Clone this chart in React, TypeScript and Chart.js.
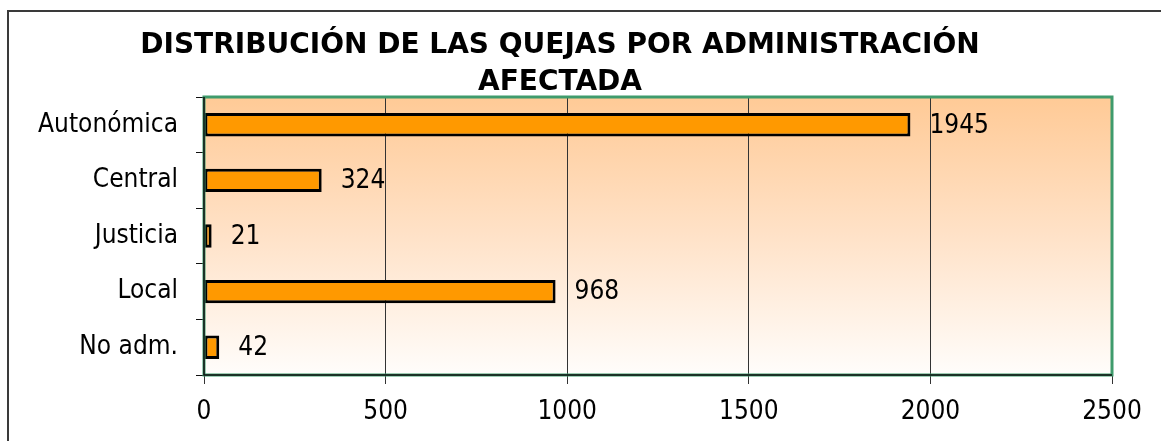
import React, { useEffect, useRef } from "react";
import { Chart, registerables } from "chart.js";

Chart.register(...registerables);

const categories = ["Autonómica", "Central", "Justicia", "Local", "No adm."];
const values = [1945, 324, 21, 968, 42];
const xMin = 0;
const xMax = 2500;
const xStep = 500;
const titleLines = ["DISTRIBUCIÓN DE LAS QUEJAS POR ADMINISTRACIÓN", "AFECTADA"];

const FONT = "'DejaVu Sans Condensed', 'DejaVu Sans', sans-serif";
const TITLE_FONT = "'DejaVu Sans', sans-serif";

const framePlugin = {
  id: "frame",
  beforeDraw(chart: any) {
    const { ctx, chartArea, width, height } = chart;
    ctx.save();
    ctx.fillStyle = "#ffffff";
    ctx.fillRect(0, 0, width, height);
    // outer frame
    ctx.strokeStyle = "#3a3a3a";
    ctx.lineWidth = 2;
    ctx.beginPath();
    ctx.moveTo(8, height + 5);
    ctx.lineTo(8, 11);
    ctx.lineTo(width + 5, 11);
    ctx.stroke();
    // plot background gradient
    const g = ctx.createLinearGradient(0, chartArea.top, 0, chartArea.bottom);
    g.addColorStop(0, "#ffca96");
    g.addColorStop(0.5, "#ffe2c8");
    g.addColorStop(1, "#fffdfb");
    ctx.fillStyle = g;
    ctx.fillRect(chartArea.left, chartArea.top, chartArea.right - chartArea.left, chartArea.bottom - chartArea.top);
    // title
    ctx.fillStyle = "#000";
    ctx.font = `bold 28px ${TITLE_FONT}`;
    ctx.textAlign = "center";
    ctx.textBaseline = "alphabetic";
    ctx.fillText(titleLines[0], 560, 53);
    ctx.fillText(titleLines[1], 560, 90);
    ctx.restore();
  },
  afterDraw(chart: any) {
    const { ctx, chartArea } = chart;
    ctx.save();
    ctx.strokeStyle = "#3f9b6c";
    ctx.lineWidth = 3;
    ctx.strokeRect(chartArea.left, chartArea.top, chartArea.right - chartArea.left, chartArea.bottom - chartArea.top);
    ctx.strokeStyle = "#111";
    ctx.lineWidth = 1.5;
    ctx.beginPath();
    ctx.moveTo(chartArea.left, chartArea.top);
    ctx.lineTo(chartArea.left, chartArea.bottom);
    ctx.lineTo(chartArea.right, chartArea.bottom);
    ctx.stroke();
    ctx.restore();
  },
  afterDatasetsDraw(chart: any) {
    const { ctx } = chart;
    const meta = chart.getDatasetMeta(0);
    ctx.save();
    ctx.fillStyle = "#000";
    ctx.font = `26px ${FONT}`;
    ctx.textAlign = "left";
    ctx.textBaseline = "middle";
    meta.data.forEach((el: any, i: number) => {
      ctx.fillText(String(values[i]), el.x + 19, el.y + 1);
    });
    ctx.restore();
  },
};

export default function App() {
  const ref = useRef<HTMLCanvasElement>(null);
  useEffect(() => {
    if (!ref.current) return;
    const chart = new Chart(ref.current, {
      type: "bar",
      data: {
        labels: categories,
        datasets: [
          {
            data: values,
            backgroundColor: "#ff9900",
            borderColor: "#000000",
            borderWidth: 3,
            borderSkipped: false,
            categoryPercentage: 1,
            barPercentage: 0.42,
          },
        ],
      },
      options: {
        indexAxis: "y",
        responsive: false,
        animation: false,
        devicePixelRatio: 1,
        layout: { padding: { left: 0, top: 97, right: 49, bottom: 0 } },
        plugins: { legend: { display: false }, title: { display: false }, tooltip: { enabled: false } },
        scales: {
          x: {
            min: xMin,
            max: xMax,
            ticks: {
              stepSize: xStep,
              color: "#000",
              font: { family: FONT, size: 26 },
              padding: 13,
              maxRotation: 0,
              callback: (v: any) => String(v),
            },
            grid: { color: "#333", lineWidth: 1, tickLength: 9, drawTicks: true },
            border: { display: true, color: "#111" },
            afterFit: (s: any) => { s.height = 66; },
          },
          y: {
            offset: true,
            ticks: { color: "#000", font: { family: FONT, size: 26 }, padding: 18 },
            grid: { drawOnChartArea: false, color: "#111", tickLength: 8, offset: true },
            border: { display: true, color: "#111" },
            afterFit: (s: any) => { s.width = 204; },
          },
        },
      } as any,
      plugins: [framePlugin],
    });
    return () => chart.destroy();
  }, []);
  return (
    <div style={{ position: "absolute", left: 0, top: 0, width: 1161, height: 441, overflow: "hidden" }}>
      <canvas ref={ref} width={1161} height={441} style={{ display: "block" }} />
    </div>
  );
}
